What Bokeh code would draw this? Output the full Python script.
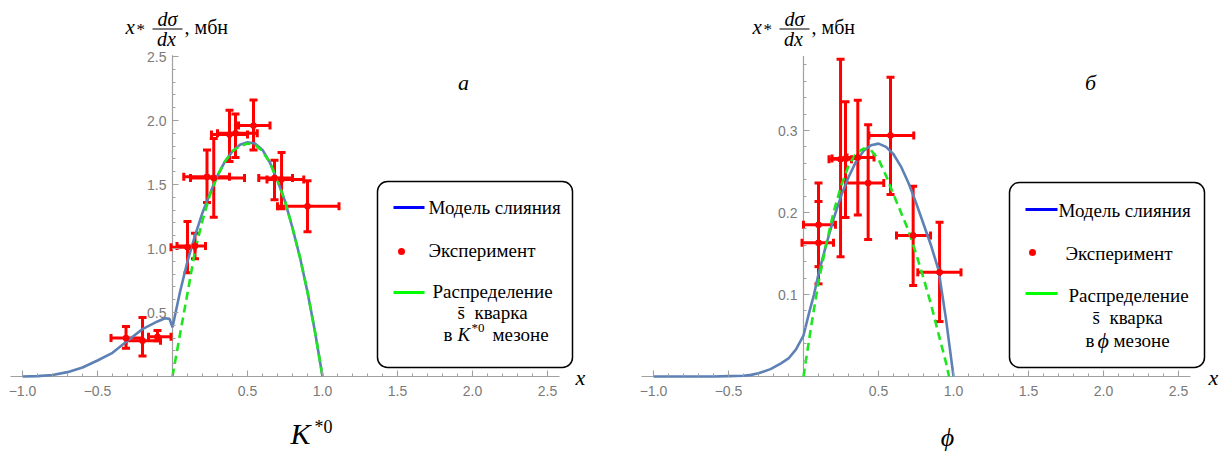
from bokeh.plotting import figure
from bokeh.models import (Range1d, FixedTicker, Whisker, TeeHead, ColumnDataSource,
                          Label, BoxAnnotation, Arrow)
from bokeh.layouts import row
from bokeh.embed import file_html
from bokeh.resources import INLINE

# ---------------- data: K*0 panel ----------------
k_x    = [-0.31, -0.20, -0.10, 0.10, 0.15, 0.23, 0.275, 0.38, 0.42, 0.54, 0.68, 0.727, 0.90]
k_y    = [0.30, 0.28, 0.31, 1.01, 1.02, 1.56, 1.55, 1.89, 1.90, 1.96, 1.55, 1.54, 1.33]
k_y_lo = [0.22, 0.16, 0.28, 0.81, 0.92, 1.36, 1.245, 1.68, 1.71, 1.77, 1.38, 1.31, 1.13]
k_y_hi = [0.39, 0.46, 0.36, 1.21, 1.12, 1.77, 1.86, 2.08, 2.05, 2.16, 1.69, 1.75, 1.53]
k_x_lo = [-0.41, -0.31, -0.16, -0.01, 0.03, 0.075, 0.12, 0.26, 0.30, 0.44, 0.575, 0.63, 0.70]
k_x_hi = [-0.20, -0.08, -0.01, 0.15, 0.22, 0.38, 0.48, 0.50, 0.565, 0.65, 0.80, 0.875, 1.11]

k_model_x = [-1.0, -0.9, -0.8, -0.7, -0.6, -0.5, -0.4, -0.3, -0.2, -0.1, -0.05, -0.02, 0.0,
             0.03, 0.05, 0.1, 0.15, 0.2, 0.25, 0.3, 0.35, 0.4, 0.45, 0.5, 0.55, 0.6, 0.65,
             0.7, 0.75, 0.8, 0.85, 0.9, 0.95, 1.0]
k_model_y = [0.0, 0.003, 0.012, 0.034, 0.07, 0.125, 0.185, 0.28, 0.37, 0.43, 0.455, 0.45, 0.385,
             0.55, 0.66, 0.9, 1.1, 1.28, 1.43, 1.57, 1.68, 1.76, 1.81, 1.83, 1.82, 1.77, 1.67,
             1.53, 1.37, 1.16, 0.93, 0.66, 0.35, 0.0]
k_quark_x = [0.0, 0.05, 0.1, 0.15, 0.2, 0.25, 0.3, 0.35, 0.4, 0.45, 0.5, 0.55, 0.6, 0.65,
             0.7, 0.75, 0.8, 0.85, 0.9, 0.95, 1.0]
k_quark_y = [0.0, 0.33, 0.65, 0.98, 1.22, 1.42, 1.57, 1.68, 1.76, 1.80, 1.82, 1.81, 1.76, 1.67,
             1.53, 1.37, 1.16, 0.93, 0.66, 0.35, 0.0]

# ---------------- data: phi panel ----------------
f_x    = [0.10, 0.10, 0.247, 0.28, 0.362, 0.431, 0.58, 0.731, 0.907]
f_y    = [0.185, 0.163, 0.265, 0.266, 0.267, 0.236, 0.294, 0.172, 0.127]
f_y_lo = [0.134, 0.113, 0.146, 0.194, 0.197, 0.167, 0.222, 0.111, 0.067]
f_y_hi = [0.236, 0.2135, 0.387, 0.335, 0.337, 0.307, 0.365, 0.232, 0.188]
f_x_lo = [0.0, -0.01, 0.17, 0.19, 0.29, 0.28, 0.436, 0.62, 0.762]
f_x_hi = [0.213, 0.20, 0.32, 0.36, 0.47, 0.535, 0.735, 0.847, 1.05]

f_model_x = [-1.0, -0.8, -0.6, -0.5, -0.4, -0.35, -0.3, -0.22, -0.15, -0.1, -0.05, 0.0, 0.035,
             0.07, 0.1, 0.15, 0.2, 0.25, 0.3, 0.35, 0.4, 0.45, 0.5, 0.55, 0.6, 0.65, 0.7,
             0.75, 0.8, 0.85, 0.9, 0.95, 1.0]
f_model_y = [0.0, 0.0, 0.0, 0.0005, 0.001, 0.002, 0.004, 0.009, 0.016, 0.022, 0.033, 0.05, 0.076,
             0.1, 0.125, 0.16, 0.192, 0.22, 0.243, 0.262, 0.275, 0.282, 0.284, 0.28, 0.271, 0.256,
             0.236, 0.212, 0.186, 0.16, 0.13, 0.07, 0.0]
f_quark_x = [0.0, 0.05, 0.1, 0.15, 0.2, 0.25, 0.3, 0.35, 0.4, 0.45, 0.5, 0.55, 0.6, 0.65,
             0.7, 0.75, 0.8, 0.85, 0.9, 0.95, 0.97]
f_quark_y = [0.0, 0.06, 0.115, 0.16, 0.2, 0.232, 0.257, 0.272, 0.278, 0.276, 0.265, 0.245, 0.222,
             0.2, 0.178, 0.15, 0.12, 0.088, 0.052, 0.017, 0.0]

x_major = [-1.0, -0.5, 0.5, 1.0, 1.5, 2.0, 2.5]
x_labels = ["\u22121.0", "\u22120.5", "0.5", "1.0", "1.5", "2.0", "2.5"]
k_y_major = [0.5, 1.0, 1.5, 2.0, 2.5]
k_y_labels = ["0.5", "1.0", "1.5", "2.0", "2.5"]
f_y_major = [0.1, 0.2, 0.3]
f_y_labels = ["0.1", "0.2", "0.3"]

# ---------------- style / layout ----------------
SERIF = "Liberation Serif"
SANS = "Liberation Sans"
BLUE = "#5e81b5"
GREEN = "#1ee61e"
RED = "#ff0000"
AXIS = "#a0a0a0"
TICKLBL = "#7a7a7a"
H = 453                 # canvas height
X_PER_PX = 1 / 150.0
ZERO_PY = 376           # pixel row of y = 0
AX_X0, AX_X1 = -1.08, 2.58   # extent of the drawn x axis
NB = "\u00a0"


def conv(x0px, ypp):
    # page pixel -> data coordinates of a panel
    def f(px, py):
        return (px - x0px) * X_PER_PX, (ZERO_PY - py) * ypp
    return f


def make_fig(fig_left, width, x0px, ypp, y_top, y_major, y_minor, y_lbls):
    xs = (fig_left - x0px) * X_PER_PX
    xe = (fig_left + width - x0px) * X_PER_PX
    ys = (ZERO_PY - H) * ypp
    ye = ZERO_PY * ypp
    p = figure(title=None, frame_width=width, frame_height=H,
               min_border=0, x_range=Range1d(xs, xe), y_range=Range1d(ys, ye),
               output_backend="svg", toolbar_location=None,
               outline_line_color=None, background_fill_color="white",
               border_fill_color="white")
    p.grid.visible = False
    for ax in (p.xaxis[0], p.yaxis[0]):
        ax.fixed_location = 0
        ax.axis_line_color = None
        ax.major_tick_line_color = AXIS
        ax.minor_tick_line_color = AXIS
        ax.major_tick_line_width = 1.1
        ax.major_tick_in = 6
        ax.major_tick_out = 0
        ax.minor_tick_in = 3
        ax.minor_tick_out = 0
        ax.major_label_text_color = TICKLBL
        ax.major_label_text_font = SANS
        ax.major_label_text_font_size = "14px"
    x_minor = [round(-1.0 + 0.1 * i, 2) for i in range(36)]
    p.xaxis.ticker = FixedTicker(ticks=x_major, minor_ticks=x_minor)
    p.xaxis.major_label_overrides = {t: s for t, s in zip(x_major, x_labels)}
    p.xaxis.major_label_standoff = 9
    p.yaxis.ticker = FixedTicker(ticks=y_major, minor_ticks=y_minor)
    p.yaxis.major_label_overrides = {t: s for t, s in zip(y_major, y_lbls)}
    p.yaxis.major_label_standoff = 6
    # axis lines (Mathematica style: crossing at the origin)
    p.add_layout(Arrow(start=None, end=None, x_start=AX_X0, y_start=0, x_end=AX_X1, y_end=0,
                       line_color=AXIS, line_width=1.2, level="underlay"))
    p.add_layout(Arrow(start=None, end=None, x_start=0, y_start=0, x_end=0, y_end=y_top,
                       line_color=AXIS, line_width=1.2, level="underlay"))
    return p


def lab(p, c, px, py, text, size, italic=False, align="left", font=SERIF):
    x, y = c(px, py)
    p.add_layout(Label(x=x, y=y, text=text, text_font=font, text_font_size=f"{size}px",
                       text_font_style="italic" if italic else "normal",
                       text_align=align, text_baseline="middle", text_color="black"))


def hline(p, c, px0, px1, py, color, width):
    x0, y0 = c(px0, py)
    x1, y1 = c(px1, py)
    p.add_layout(Arrow(start=None, end=None, x_start=x0, y_start=y0, x_end=x1, y_end=y1,
                       line_color=color, line_width=width))


def draw_data(p, mx, my, qx, qy, px_, py_, ylo, yhi, xlo, xhi):
    p.line(mx, my, line_color=BLUE, line_width=2.6)
    p.line(qx, qy, line_color=GREEN, line_width=2.6, line_dash="8 5")
    src = ColumnDataSource(dict(x=px_, y=py_, ylo=ylo, yhi=yhi, xlo=xlo, xhi=xhi))
    for dim, base, lo, hi in (("height", "x", "ylo", "yhi"), ("width", "y", "xlo", "xhi")):
        p.add_layout(Whisker(source=src, base=base, lower=lo, upper=hi, dimension=dim,
                             line_color=RED, line_width=3,
                             lower_head=TeeHead(size=8, line_color=RED, line_width=3),
                             upper_head=TeeHead(size=8, line_color=RED, line_width=3)))
    p.scatter("x", "y", source=src, size=6, color=RED)


def decorate(p, c, dx, letter, lx, xlab_px, leg):
    # y-axis title  x* dσ/dx, мбн
    lab(p, c, 125 + dx, 26, "x", 21, italic=True)
    lab(p, c, 136 + dx, 29, "*", 17)
    lab(p, c, 167 + dx, 18, "d\u03c3", 20, italic=True, align="center")
    hline(p, c, 152 + dx, 182 + dx, 28.5, "black", 1.2)
    lab(p, c, 166 + dx, 38, "dx", 20, italic=True, align="center")
    lab(p, c, 184 + dx, 26, ", мбн", 20)
    # panel letter
    lab(p, c, lx, 82, letter, 22, italic=True, align="center")
    # axis name x
    lab(p, c, xlab_px, 377, "x", 22, italic=True, align="center")
    # legend box
    bx0, bx1, by0, by1 = leg["box"]
    l, t = c(bx0, by0)
    r, b = c(bx1, by1)
    p.add_layout(BoxAnnotation(left=l, right=r, top=t, bottom=b, border_radius=10,
                               fill_color="white", fill_alpha=1.0,
                               line_color="black", line_alpha=1.0, line_width=1.5))
    k0, k1 = leg["key"]
    hline(p, c, k0, k1, leg["y1"], "#0000ff", 3)
    hline(p, c, k0, k1, leg["y3"], "#00ff00", 3)
    dx0, dy0 = c(leg["dot"][0] - 3.5, leg["dot"][1] - 3.5)
    dx1, dy1 = c(leg["dot"][0] + 3.5, leg["dot"][1] + 3.5)
    p.add_layout(BoxAnnotation(left=dx0, right=dx1, top=dy0, bottom=dy1, border_radius=4,
                               fill_color=RED, fill_alpha=1.0, line_color=None))
    for (tx, ty, txt) in leg["texts"]:
        lab(p, c, tx, ty, txt, 19)


# ---------------- left panel (K*0) ----------------
k_minor = [round(0.1 * i, 2) for i in range(1, 26)]
p1 = make_fig(0, 614, 172, 1 / 128.0, 2.51, k_y_major, k_minor, k_y_labels)
c1 = conv(172, 1 / 128.0)
draw_data(p1, k_model_x, k_model_y, k_quark_x, k_quark_y,
          k_x, k_y, k_y_lo, k_y_hi, k_x_lo, k_x_hi)
decorate(p1, c1, 0, "а", 463, 580, dict(
    box=(377, 572, 181, 367), key=(393, 424), y1=207, y3=292, dot=(401, 251),
    texts=[(428, 207, "Модель слияния"), (428, 250, "Эксперимент"),
           (432, 291, "Распределение"), (457, 312, "s\u0304" + NB + NB + "кварка"),
           (443, 334, "в"), (492, 334, "мезоне")]))
lab(p1, c1, 457, 334, "K", 19, italic=True)
lab(p1, c1, 471, 327, "*0", 13)
lab(p1, c1, 290, 433, "K", 30, italic=True)
lab(p1, c1, 314, 426, "*0", 18)

# ---------------- right panel (phi) ----------------
f_minor = [round(0.02 * i, 2) for i in range(1, 20)]
p2 = make_fig(614, 614, 803, 1 / 820.0, 0.391, f_y_major, f_minor, f_y_labels)
c2 = conv(803, 1 / 820.0)
draw_data(p2, f_model_x, f_model_y, f_quark_x, f_quark_y,
          f_x, f_y, f_y_lo, f_y_hi, f_x_lo, f_x_hi)
decorate(p2, c2, 627, "б", 1090, 1213, dict(
    box=(1009, 1204, 182, 367), key=(1025, 1057), y1=209, y3=293, dot=(1032, 252),
    texts=[(1058, 210, "Модель слияния"), (1065, 253, "Эксперимент"),
           (1068, 295, "Распределение"), (1092, 317, "s\u0304" + NB + NB + "кварка"),
           (1085, 340, "в"), (1113, 340, "мезоне")]))
lab(p2, c2, 1097, 340, "\u03d5", 22, italic=True)
lab(p2, c2, 947, 437, "\u03d5", 26, italic=True, align="center")

layout = row(p1, p2)
open("out.html", "w").write(file_html(layout, INLINE))
